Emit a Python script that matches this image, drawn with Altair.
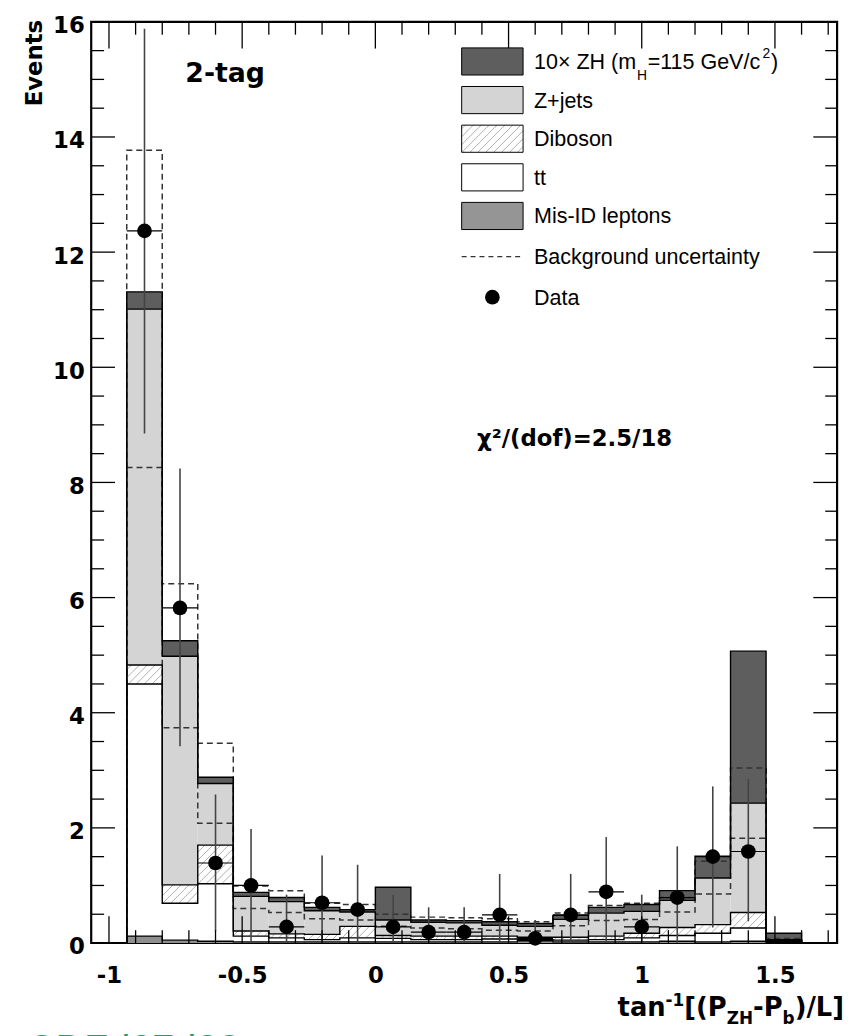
import math
import altair as alt
import pandas as pd

# ---------------- values ----------------
bin_edges = [-0.9333, -0.8, -0.6667, -0.5333, -0.4, -0.2667, -0.1333, 0.0,
             0.1333, 0.2667, 0.4, 0.5333, 0.6667, 0.8, 0.9333, 1.0667,
             1.2, 1.3333, 1.4667, 1.6]
misid   = [0.12, 0.05, 0.03, 0.02, 0.02, 0.02, 0.02, 0.02, 0.02, 0.02,
           0.02, 0.04, 0.02, 0.02, 0.02, 0.03, 0.02, 0.03, 0.01]
ttbar   = [4.38, 0.64, 1.00, 0.10, 0.07, 0.04, 0.07, 0.06, 0.04, 0.04,
           0.05, 0.02, 0.03, 0.04, 0.07, 0.10, 0.15, 0.23, 0.02]
diboson = [0.33, 0.32, 0.67, 0.09, 0.07, 0.09, 0.20, 0.05, 0.06, 0.06,
           0.05, 0.04, 0.05, 0.06, 0.08, 0.14, 0.15, 0.27, 0.01]
zjets   = [6.18, 3.97, 1.07, 0.60, 0.56, 0.41, 0.25, 0.27, 0.24, 0.23,
           0.19, 0.19, 0.31, 0.40, 0.38, 0.47, 0.81, 1.90, 0.02]
zh10    = [0.30, 0.27, 0.11, 0.07, 0.07, 0.06, 0.04, 0.57, 0.04, 0.04,
           0.06, 0.05, 0.07, 0.10, 0.12, 0.17, 0.38, 2.64, 0.11]
bkg_up  = [13.77, 6.24, 3.47, 0.99, 0.91, 0.69, 0.67, 0.50, 0.45, 0.44,
           0.42, 0.37, 0.52, 0.65, 0.69, 0.79, 1.42, 3.04, 0.08]
bkg_dn  = [8.26, 3.74, 2.08, 0.60, 0.53, 0.42, 0.40, 0.29, 0.26, 0.25,
           0.22, 0.21, 0.30, 0.39, 0.41, 0.54, 0.85, 1.82, 0.04]
data_val = [12.37, 5.82, 1.39, 1.00, 0.28, 0.70, 0.58, 0.28, 0.19, 0.19,
            0.49, 0.08, 0.49, 0.89, 0.28, 0.79, 1.50, 1.59]
data_hi  = [15.88, 8.24, 2.58, 1.98, 0.84, 1.52, 1.36, 0.84, 0.62, 0.62,
            1.20, 0.40, 1.20, 1.84, 0.84, 1.68, 2.72, 2.85]
data_lo  = [8.85, 3.42, 0.21, 0.0, 0.0, 0.0, 0.0, 0.0, 0.0, 0.0,
            0.0, 0.0, 0.0, 0.0, 0.0, 0.0, 0.27, 0.38]

x_major = [-1, -0.5, 0, 0.5, 1, 1.5]
x_minor = [-0.9, -0.8, -0.7, -0.6, -0.4, -0.3, -0.2, -0.1, 0.1, 0.2, 0.3, 0.4,
           0.6, 0.7, 0.8, 0.9, 1.1, 1.2, 1.3, 1.4, 1.6, 1.7]
y_major = [0, 2, 4, 6, 8, 10, 12, 14, 16]
y_minor = [v / 2 for v in range(1, 32) if v % 4 != 0]

legend_labels = ["Z+jets", "Diboson", "tt", "Mis-ID leptons",
                 "Background uncertainty", "Data"]
layer_colors = ["#8f8f8f", "white", "white", "#d4d4d4", "#5e5e5e"]

# ---------------- layout ----------------
W, H = 753, 930
XMIN, XMAX = -1.0667, 1.7333
YMAX = 16
PXX = W / (XMAX - XMIN)
PXY = H / YMAX

xs = alt.Scale(domain=[XMIN, XMAX], nice=False, zero=False)
ys = alt.Scale(domain=[0, YMAX], nice=False, zero=False)

x_axis = alt.Axis(values=x_major, labelExpr="'' + datum.value", ticks=False,
                  tickSize=0, domain=False, grid=False, labelFont="DejaVu Sans",
                  labelFontWeight="bold", labelFontSize=23, labelPadding=22,
                  labelColor="black", title=None, labelOverlap=False,
                  labelFlush=False)
y_axis = alt.Axis(values=y_major, labelExpr="'' + datum.value", ticks=False,
                  tickSize=0, domain=False, grid=False, labelFont="DejaVu Sans",
                  labelFontWeight="bold", labelFontSize=23, labelPadding=7,
                  labelOffset=4, labelColor="black", title=None,
                  labelOverlap=False, labelFlush=False)


def X(field):
    return alt.X(field, scale=xs, axis=x_axis)


def Y(field):
    return alt.Y(field, scale=ys, axis=y_axis)


def px2x(px):
    return XMIN + px / PXX


def px2y(py):
    return (H - py) / PXY


def hatch(x0, x1, y0, y1, step=8.0):
    X0, X1 = (x0 - XMIN) * PXX, (x1 - XMIN) * PXX
    Y0, Y1 = y0 * PXY, y1 * PXY
    segs = []
    k = math.floor((X0 - Y1) / step)
    while k * step <= X1 - Y0:
        c = k * step
        xa = max(X0, Y0 + c)
        xb = min(X1, Y1 + c)
        if xb - xa > 0.4:
            segs.append({"x": XMIN + xa / PXX, "y": (xa - c) / PXY,
                         "x2": XMIN + xb / PXX, "y2": (xb - c) / PXY})
        k += 1
    return segs


nb = len(misid)
comps = [misid, ttbar, diboson, zjets, zh10]
cum = []
run = [0.0] * nb
for comp in comps:
    lower = run[:]
    run = [run[i] + comp[i] for i in range(nb)]
    cum.append((lower, run[:]))

fill_rows = []
hatch_rows = []
for li, (lo, hi) in enumerate(cum):
    for i in range(nb):
        fill_rows.append({"x0": bin_edges[i], "x1": bin_edges[i + 1],
                          "y0": lo[i], "y1": hi[i], "fill": layer_colors[li]})
        if li == 2:
            hatch_rows += hatch(bin_edges[i], bin_edges[i + 1], lo[i], hi[i])
fill_df = pd.DataFrame(fill_rows)
hatch_df = pd.DataFrame(hatch_rows)


def step_rows(vals, name):
    rows = [{"lvl": name, "o": 0, "x": bin_edges[0], "y": 0.0}]
    o = 1
    for i, v in enumerate(vals):
        rows.append({"lvl": name, "o": o, "x": bin_edges[i], "y": v}); o += 1
        rows.append({"lvl": name, "o": o, "x": bin_edges[i + 1], "y": v}); o += 1
    rows.append({"lvl": name, "o": o, "x": bin_edges[len(vals)], "y": 0.0})
    return rows


outline_rows = []
for li, (lo, hi) in enumerate(cum):
    outline_rows += step_rows(hi, "c%d" % li)
outline_df = pd.DataFrame(outline_rows)
band_df = pd.DataFrame(step_rows(bkg_up, "up") + step_rows(bkg_dn, "dn"))

nd = len(data_val)
data_df = pd.DataFrame({
    "xc": [(bin_edges[i] + bin_edges[i + 1]) / 2 for i in range(nd)],
    "xl": bin_edges[:nd], "xr": bin_edges[1:nd + 1],
    "v": data_val, "hi": data_hi, "lo": data_lo})

# ---------------- legend geometry ----------------
row_c = [40, 79, 118, 157, 196, 237, 278]
SW_X0, SW_X1, SW_H = 374, 436, 13.7
TXT_X = 447
leg_fill_colors = ["#5e5e5e", "#d4d4d4", "white", "white", "#959595"]
leg_rects = []
leg_hatch_rows = []
for r in range(5):
    y0 = px2y(row_c[r] + SW_H)
    y1 = px2y(row_c[r] - SW_H)
    leg_rects.append({"x0": px2x(SW_X0), "x1": px2x(SW_X1), "y0": y0, "y1": y1,
                      "fill": leg_fill_colors[r]})
    if r == 2:
        leg_hatch_rows += hatch(px2x(SW_X0), px2x(SW_X1), y0, y1)
leg_rect_df = pd.DataFrame(leg_rects)
leg_hatch_df = pd.DataFrame(leg_hatch_rows)

arial = {'1': 556, '0': 556, '×': 584, ' ': 278, 'Z': 611, 'H': 722, '(': 333,
         'm': 833, '=': 584, '5': 556, 'G': 778, 'e': 556, 'V': 667, '/': 278,
         'c': 500, '2': 556, ')': 333}
dvb = {'t': 478, 'a': 675, 'n': 712, '[': 457, '(': 457, 'P': 733, '-': 415,
       ')': 457, '/': 365, 'L': 637, ']': 457, 'Z': 725, 'H': 837, 'b': 716,
       '1': 696}


def wid(s, size, table):
    return sum(table.get(ch, 600) for ch in s) * size / 1000.0


LEG_FS, LEG_SFS = 21.7, 14
leg_txt = []
for r, lab in enumerate(legend_labels):
    leg_txt.append({"x": px2x(TXT_X), "y": px2y(row_c[r + 1] + 7.5), "t": lab,
                    "fs": LEG_FS})
base0 = row_c[0] + 7.5
pieces0 = [("10× ZH (m", 0, LEG_FS), ("H", 11, LEG_SFS), ("=115 GeV/c", 0, LEG_FS),
           ("2", -11, LEG_SFS), (")", 0, LEG_FS)]
cx = TXT_X
for s, dy, fs in pieces0:
    leg_txt.append({"x": px2x(cx), "y": px2y(base0 + dy), "t": s, "fs": fs})
    cx += wid(s, fs, arial) + 0.8
leg_txt_df = pd.DataFrame(leg_txt)

# x-axis title pieces (right aligned to the frame)
XT_FS, XT_SFS = 26, 17
xt_base = 1004
xt_pieces = [("tan", 0, XT_FS), ("-1", -10, XT_SFS), ("[(P", 0, XT_FS),
             ("ZH", 8, XT_SFS), ("-P", 0, XT_FS), ("b", 8, XT_SFS),
             (")/L]", 0, XT_FS)]
total = sum(wid(s, fs, dvb) for s, _, fs in xt_pieces)
cx = W + 7 - total
xt_rows = []
for s, dy, fs in xt_pieces:
    xt_rows.append({"x": px2x(cx), "y": px2y(xt_base + dy), "t": s, "fs": fs})
    cx += wid(s, fs, dvb)
xt_df = pd.DataFrame(xt_rows)

# ---------------- chart layers ----------------
fills = alt.Chart(fill_df).mark_rect(strokeWidth=0).encode(
    x=X("x0:Q"), x2="x1:Q", y=Y("y0:Q"), y2="y1:Q",
    fill=alt.Fill("fill:N", scale=None))

hatch_layer = alt.Chart(hatch_df).mark_rule(color="#9a9a9a", strokeWidth=0.8).encode(
    x=X("x:Q"), y=Y("y:Q"), x2="x2:Q", y2="y2:Q")

bands = alt.Chart(band_df).mark_line(color="#333333", strokeWidth=1.5,
                                     strokeDash=[6, 4]).encode(
    x=X("x:Q"), y=Y("y:Q"), detail="lvl:N", order="o:Q")

outlines = alt.Chart(outline_df).mark_line(color="black", strokeWidth=1.4).encode(
    x=X("x:Q"), y=Y("y:Q"), detail="lvl:N", order="o:Q")

err_v = alt.Chart(data_df).mark_rule(color="#444444", strokeWidth=1.6).encode(
    x=X("xc:Q"), y=Y("lo:Q"), y2="hi:Q")
err_h = alt.Chart(data_df).mark_rule(color="black", strokeWidth=1.2).encode(
    x=X("xl:Q"), x2="xr:Q", y=Y("v:Q"))
points = alt.Chart(data_df).mark_circle(color="black", opacity=1, size=220).encode(
    x=X("xc:Q"), y=Y("v:Q"))


def tick_layer(vals, side, length):
    base = alt.Chart(pd.DataFrame({"v": vals})).mark_rule(color="black",
                                                          strokeWidth=1.3)
    if side == "bottom":
        return base.encode(x=X("v:Q"), y=alt.value(H), y2=alt.value(H - length))
    if side == "top":
        return base.encode(x=X("v:Q"), y=alt.value(0), y2=alt.value(length))
    if side == "left":
        return base.encode(y=Y("v:Q"), x=alt.value(0), x2=alt.value(length))
    return base.encode(y=Y("v:Q"), x=alt.value(W), x2=alt.value(W - length))


ticks = [tick_layer(x_major, "bottom", 27), tick_layer(x_minor, "bottom", 13),
         tick_layer(x_major, "top", 27), tick_layer(x_minor, "top", 13),
         tick_layer(y_major, "left", 24), tick_layer(y_minor, "left", 13),
         tick_layer(y_major, "right", 24), tick_layer(y_minor, "right", 12)]

leg_rect_layer = alt.Chart(leg_rect_df).mark_rect(strokeWidth=0).encode(
    x=X("x0:Q"), x2="x1:Q", y=Y("y0:Q"), y2="y1:Q",
    fill=alt.Fill("fill:N", scale=None))
leg_hatch_layer = alt.Chart(leg_hatch_df).mark_rule(color="#9a9a9a",
                                                    strokeWidth=0.8).encode(
    x=X("x:Q"), y=Y("y:Q"), x2="x2:Q", y2="y2:Q")
leg_rect_outline = alt.Chart(leg_rect_df).mark_rect(stroke="black", strokeWidth=1,
                                                    fillOpacity=0).encode(
    x=X("x0:Q"), x2="x1:Q", y=Y("y0:Q"), y2="y1:Q")
leg_text_layer = alt.Chart(leg_txt_df).mark_text(
    align="left", baseline="alphabetic", font="Liberation Sans",
    color="black").encode(
    x=X("x:Q"), y=Y("y:Q"), text="t:N", size=alt.Size("fs:Q", scale=None))

one = pd.DataFrame({"a": [0]})
leg_line = alt.Chart(one).mark_rule(color="#333333", strokeWidth=1.2,
                                    strokeDash=[5, 4]).encode(
    x=alt.value(SW_X0), x2=alt.value(SW_X1), y=alt.value(row_c[5]))
leg_dot = alt.Chart(one).mark_circle(color="black", opacity=1, size=220).encode(
    x=alt.value((SW_X0 + SW_X1) / 2), y=alt.value(row_c[6]))

xt_layer = alt.Chart(xt_df).mark_text(
    align="left", baseline="alphabetic", font="DejaVu Sans", fontWeight="bold",
    color="black").encode(
    x=X("x:Q"), y=Y("y:Q"), text="t:N", size=alt.Size("fs:Q", scale=None))


def vtext(s, x, y, size, weight="bold", font="DejaVu Sans", align="left",
          baseline="alphabetic", color="black", angle=0):
    return alt.Chart(one).mark_text(
        text=s, fontSize=size, fontWeight=weight, font=font, align=align,
        baseline=baseline, color=color, angle=angle).encode(
        x=alt.value(x), y=alt.value(y))


annotations = [
    vtext("2-tag", 95, 61, 27),
    vtext("χ²/(dof)=2.5/18", 488, 421, 23, align="center", baseline="middle"),
    vtext("Events", -57, -2, 23, align="right", baseline="middle", angle=270),
    vtext("CDF-l07-l08", -65, 1050, 40, weight="normal", font="Liberation Sans",
          color="#1a9e6e"),
]

chart = alt.layer(
    fills, hatch_layer, bands, outlines, err_v, err_h, points,
    *ticks,
    leg_rect_layer, leg_hatch_layer, leg_rect_outline,
    leg_text_layer, leg_line, leg_dot, xt_layer, *annotations
).properties(
    width=W, height=H, background="white",
    autosize=alt.AutoSizeParams(type="none"),
    padding={"left": 84, "top": 9, "right": 9, "bottom": 100},
).configure_view(stroke="black", strokeWidth=2.2)

chart.save("out.html", embed_options={"renderer": "svg", "actions": False})
